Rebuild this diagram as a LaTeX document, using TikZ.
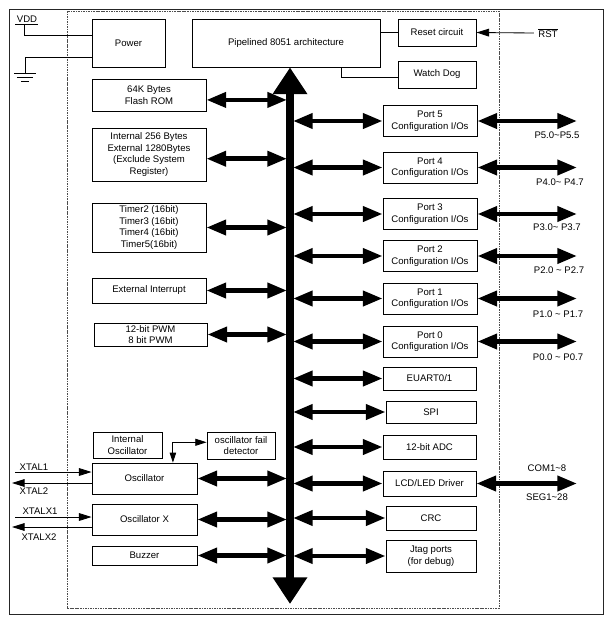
\documentclass[tikz,border=0pt]{standalone}
\usepackage{fontspec}
\setmainfont{Liberation Sans}
\usetikzlibrary{arrows.meta}
\tikzset{
	blk/.style={draw, rectangle, line width=0.6pt, inner sep=1pt, align=center, font=\fontsize{6.8}{8.2}\selectfont},
	lbl/.style={inner sep=0pt, font=\fontsize{6.8}{8.2}\selectfont},
	port/.style={blk, minimum width=2.35cm, minimum height=0.775cm},
	busarrow/.style={{Triangle[length=19pt,width=23.5pt]}-{Triangle[length=19pt,width=23.5pt]}, line width=5pt},
	dbl/.style={{Triangle[length=14pt,width=10.5pt]}-{Triangle[length=14pt,width=10.5pt]}, line width=3.2pt},
	sigline/.style={line width=0.6pt},
	sig/.style={sigline, -{Triangle[length=9pt,width=5.5pt]}},
	sigboth/.style={sigline, {Triangle[length=7pt,width=4.5pt]}-{Triangle[length=8pt,width=5pt]}}
}
\begin{document}
\begin{tikzpicture}[x=0.025cm, y=-0.025cm]
	\useasboundingbox (0,0) rectangle (610,620);
	\draw[line width=0.7pt, black!85] (9,9) rectangle (603,614);
	\draw[line width=0.5pt, black!70, dash pattern=on 1.2pt off 0.6pt] (67,11) rectangle (499,608);

	\node[blk, minimum width=1.825cm, minimum height=1.2cm] (power) at (128.5,43) {Power};
	\node[blk, minimum width=4.7cm, minimum height=1.2cm] (pipe) at (286,43) {Pipelined 8051 architecture};
	\node[blk, minimum width=1.95cm, minimum height=0.675cm] (reset) at (437,32.5) {Reset circuit};
	\node[blk, minimum width=1.95cm, minimum height=0.675cm] (wdog) at (437,74.5) {Watch Dog};
	\node[lbl] (rst) at (548,33) {$\overline{\hbox{RST}}$};

	\node[lbl] (vdd) at (27,19) {VDD};
	\coordinate (vddpin) at (24,24);
	\coordinate (gndpin) at (25,73);
	\draw[sigline] ([xshift=-6.4pt]vddpin) -- ([xshift=10pt]vddpin);
	\draw[sigline] (vddpin) |- ([yshift=5.7pt]power.west);
	\draw[sigline] ([yshift=-10.6pt]power.west) -| (gndpin);
	\draw[sigline] ([xshift=-7.8pt]gndpin) -- ([xshift=7.8pt]gndpin);
	\draw[sigline] ([xshift=-5.7pt, yshift=-2.8pt]gndpin) -- ([xshift=5.7pt, yshift=-2.8pt]gndpin);
	\draw[sigline] ([xshift=-2.8pt, yshift=-5.7pt]gndpin) -- ([xshift=2.8pt, yshift=-5.7pt]gndpin);

	\draw[sigline] (pipe.east |- reset.west) -- (reset.west);
	\draw[sigline] ([xshift=39.7pt]pipe.south) |- ([yshift=-1.8pt]wdog.west);
	\draw[sig] ([xshift=-3pt]rst.west) -- (reset.east);

	\node[blk, minimum width=2.85cm, minimum height=0.8cm] (flash) at (149,95) {64K Bytes\\Flash ROM};
	\node[blk, minimum width=2.85cm, minimum height=1.325cm] (ram) at (149,154.5) {Internal 256 Bytes\\External 1280Bytes\\(Exclude System\\Register)};
	\node[blk, minimum width=2.85cm, minimum height=1.225cm] (timer) at (149,227.5) {Timer2 (16bit)\\Timer3 (16bit)\\Timer4 (16bit)\\Timer5(16bit)};
	\node[blk, minimum width=2.85cm, minimum height=0.625cm] (extint) at (149,290.5) {External Interrupt};
	\node[blk, minimum width=2.825cm, minimum height=0.575cm] (pwm) at (150.5,334.5) {12-bit PWM\\8 bit PWM};

	\node[blk, minimum width=1.725cm, minimum height=0.65cm] (intosc) at (127.5,445) {Internal\\Oscillator};
	\node[blk, minimum width=1.7cm, minimum height=0.675cm] (oscfail) at (241,445.5) {oscillator fail\\detector};
	\node[blk, minimum width=2.625cm, minimum height=0.775cm] (osc) at (144.5,478.5) {Oscillator};
	\node[blk, minimum width=2.625cm, minimum height=0.775cm] (oscx) at (144.5,519.5) {Oscillator X};
	\node[blk, minimum width=2.625cm, minimum height=0.475cm] (buzzer) at (144.5,555.5) {Buzzer};

	\draw[sigboth] ([xshift=20.2pt]osc.north) |- ([yshift=2.3pt]oscfail.west);

	\coordinate (xtal1) at (15,472);
	\coordinate (xtal2) at (12,483);
	\coordinate (xtalx1) at (15,517);
	\coordinate (xtalx2) at (12,527);
	\draw[sig] (xtal1) -- (xtal1 -| osc.west);
	\draw[sig] (xtal2 -| osc.west) -- (xtal2);
	\draw[sig] (xtalx1) -- (xtalx1 -| oscx.west);
	\draw[sig] (xtalx2 -| oscx.west) -- (xtalx2);
	\node[lbl] (xtal1lbl) at (34,467) {XTAL1};
	\node[lbl] (xtal2lbl) at (34,491.5) {XTAL2};
	\node[lbl] (xtalx1lbl) at (40,511) {XTALX1};
	\node[lbl] (xtalx2lbl) at (39,537.5) {XTALX2};

	\node[port] (port5) at (430,121) {Port 5\\Configuration I/Os};
	\node[port] (port4) at (430,167.5) {Port 4\\Configuration I/Os};
	\node[port] (port3) at (430,214) {Port 3\\Configuration I/Os};
	\node[port] (port2) at (430,256) {Port 2\\Configuration I/Os};
	\node[port] (port1) at (430,298.5) {Port 1\\Configuration I/Os};
	\node[port] (port0) at (430,341.5) {Port 0\\Configuration I/Os};
	\node[blk, minimum width=2.325cm, minimum height=0.575cm] (euart) at (429.5,378.5) {EUART0/1};
	\node[blk, minimum width=2.25cm, minimum height=0.55cm] (spi) at (431,412) {SPI};
	\node[blk, minimum width=2.325cm, minimum height=0.6cm] (adc) at (429.5,447) {12-bit ADC};
	\node[blk, minimum width=2.325cm, minimum height=0.625cm] (lcd) at (429.5,483.5) {LCD/LED Driver};
	\node[blk, minimum width=2.25cm, minimum height=0.6cm] (crc) at (431,518) {CRC};
	\node[blk, minimum width=2.25cm, minimum height=0.8cm] (jtag) at (431,556) {Jtag ports\\(for debug)};

	\coordinate (busend) at (290,604);
	\coordinate (busL) at (287,0);
	\coordinate (busR) at (293,0);
	\coordinate (pend) at (577,0);
	\draw[busarrow] (pipe.south -| busend) -- (busend);

	\draw[dbl] ([yshift=-3.5pt]flash.east) -- ([yshift=-3.5pt]flash.east -| busL);
	\draw[dbl] ([yshift=-3pt]ram.east) -- ([yshift=-3pt]ram.east -| busL);
	\draw[dbl] (timer.east) -- (timer.east -| busL);
	\draw[dbl] (extint.east) -- (extint.east -| busL);
	\draw[dbl] (pwm.east) -- (pwm.east -| busL);
	\draw[dbl] (osc.east) -- (osc.east -| busL);
	\draw[dbl] (oscx.east) -- (oscx.east -| busL);
	\draw[dbl] (buzzer.east) -- (buzzer.east -| busL);

	\draw[dbl] (port5.west -| busR) -- (port5.west);
	\draw[dbl] (port4.west -| busR) -- (port4.west);
	\draw[dbl] (port3.west -| busR) -- (port3.west);
	\draw[dbl] (port2.west -| busR) -- (port2.west);
	\draw[dbl] (port1.west -| busR) -- (port1.west);
	\draw[dbl] (port0.west -| busR) -- (port0.west);
	\draw[dbl] (euart.west -| busR) -- (euart.west);
	\draw[dbl] (spi.west -| busR) -- (spi.west);
	\draw[dbl] (adc.west -| busR) -- (adc.west);
	\draw[dbl] (lcd.west -| busR) -- (lcd.west);
	\draw[dbl] (crc.west -| busR) -- (crc.west);
	\draw[dbl] (jtag.west -| busR) -- (jtag.west);

	\draw[dbl] (port5.east) -- (port5.east -| pend);
	\draw[dbl] (port4.east) -- (port4.east -| pend);
	\draw[dbl] (port3.east) -- (port3.east -| pend);
	\draw[dbl] (port2.east) -- (port2.east -| pend);
	\draw[dbl] (port1.east) -- (port1.east -| pend);
	\draw[dbl] (port0.east) -- (port0.east -| pend);
	\draw[dbl] (lcd.east) -- (lcd.east -| pend);

	\node[lbl] (p5lbl) at (557,135) {P5.0\textasciitilde P5.5};
	\node[lbl] (p4lbl) at (560,182) {P4.0\textasciitilde{} P4.7};
	\node[lbl] (p3lbl) at (557,227) {P3.0\textasciitilde{} P3.7};
	\node[lbl] (p2lbl) at (559,270) {P2.0 \textasciitilde{} P2.7};
	\node[lbl] (p1lbl) at (558,314) {P1.0 \textasciitilde{} P1.7};
	\node[lbl] (p0lbl) at (558,357) {P0.0 \textasciitilde{} P0.7};
	\node[lbl] (comlbl) at (547,468) {COM1\textasciitilde 8};
	\node[lbl] (seglbl) at (547,497) {SEG1\textasciitilde 28};
\end{tikzpicture}
\end{document}
